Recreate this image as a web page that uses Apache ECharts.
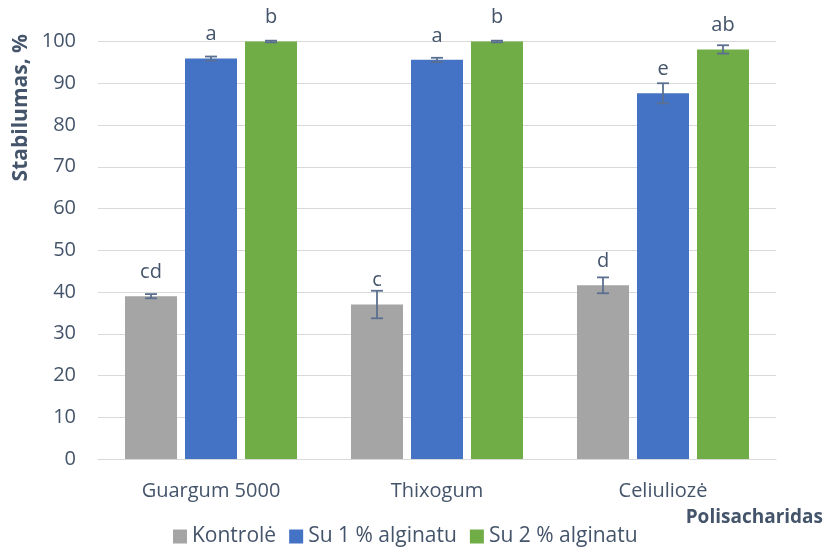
<!DOCTYPE html>
<html><head><meta charset="utf-8">
<script src="https://cdn.jsdelivr.net/npm/echarts@6/dist/echarts.min.js"></script>
<style>html,body{margin:0;padding:0;background:#fff}#c{width:826px;height:550px}</style>
</head><body><div id="c"></div>
<script>
const categories = ['Guargum 5000', 'Thixogum', 'Celiuliozė'];
const seriesNames = ['Kontrolė', 'Su 1 % alginatu', 'Su 2 % alginatu'];
const kontrole = [39.0, 37.0, 41.6];
const su1 = [95.9, 95.6, 87.6];
const su2 = [100, 100, 98.1];
const errKontrole = [0.5, 3.3, 1.9];
const errSu1 = [0.5, 0.5, 2.4];
const errSu2 = [0.2, 0.2, 1.0];
const lettersKontrole = ['cd', 'c', 'd'];
const lettersSu1 = ['a', 'a', 'e'];
const lettersSu2 = ['b', 'b', 'ab'];
const yTicks = [0, 10, 20, 30, 40, 50, 60, 70, 80, 90, 100];
const yAxisTitle = 'Stabilumas, %';
const xAxisTitle = 'Polisacharidas';

const colors = ['#A5A5A5', '#4472C4', '#70AD47'];
const FONT = '"Open Sans", sans-serif';
const textColor = '#44546A';
const barWidth = 52, barGap = 8;

const values = [kontrole, su1, su2];
const errs = [errKontrole, errSu1, errSu2];
const letters = [lettersKontrole, lettersSu1, lettersSu2];

const series = [];
values.forEach((vals, si) => {
  series.push({
    name: seriesNames[si], type: 'bar', data: vals, barWidth: barWidth,
    barGap: (barGap / barWidth * 100) + '%',
    itemStyle: { color: colors[si] },
    label: {
      show: true, position: 'top', distance: 14,
      formatter: p => letters[si][p.dataIndex],
      fontFamily: FONT, fontSize: 20, color: textColor
    },
    z: 2
  });
});
values.forEach((vals, si) => {
  series.push({
    type: 'custom', name: seriesNames[si] + ' err',
    data: vals.map((v, i) => [i, v - errs[si][i], v + errs[si][i]]),
    renderItem: function (params, api) {
      const i = api.value(0);
      const c = api.coord([i, api.value(2)]);
      const lo = api.coord([i, api.value(1)]);
      const offset = (si - 1) * (barWidth + barGap);
      const x = c[0] + offset;
      const hw = 6;
      const st = { stroke: '#5B7090', lineWidth: 1.8 };
      return { type: 'group', children: [
        { type: 'line', shape: { x1: x, y1: c[1], x2: x, y2: lo[1] }, style: st },
        { type: 'line', shape: { x1: x - hw, y1: c[1], x2: x + hw, y2: c[1] }, style: st },
        { type: 'line', shape: { x1: x - hw, y1: lo[1], x2: x + hw, y2: lo[1] }, style: st }
      ]};
    },
    z: 5
  });
});

const chart = echarts.init(document.getElementById('c'), null, { renderer: 'canvas' });
chart.setOption({
  animation: false,
  textStyle: { fontFamily: FONT },
  grid: { left: 98, right: 50, top: 41.5, bottom: 91, containLabel: false, outerBoundsMode: 'none' },
  legend: {
    data: seriesNames, top: 526, left: 173, padding: 0, itemWidth: 14, itemHeight: 14, itemGap: 13,
    icon: 'rect',
    textStyle: { fontFamily: FONT, fontSize: 21, color: textColor }
  },
  graphic: [
    { type: 'text', left: 11, top: 34, rotation: Math.PI / 2,
      style: { text: yAxisTitle, font: 'bold 21px "Open Sans", sans-serif', fill: textColor } },
    { type: 'text', right: 3, top: 508,
      style: { text: xAxisTitle, font: 'bold 19px "Open Sans", sans-serif', fill: textColor } }
  ],
  xAxis: {
    type: 'category', data: categories,
    axisLine: { lineStyle: { color: '#D9D9D9' } },
    axisTick: { show: false },
    axisLabel: { fontFamily: FONT, fontSize: 20, color: textColor, margin: 22 }
  },
  yAxis: {
    type: 'value', min: 0, max: 100, interval: 10,
    axisLine: { show: false }, axisTick: { show: false },
    axisLabel: { fontFamily: FONT, fontSize: 20, color: textColor, margin: 22,
      formatter: v => yTicks.includes(v) ? String(v) : '' },
    splitLine: { lineStyle: { color: '#D9D9D9', width: 1 } }
  },
  series: series
});
</script></body></html>
